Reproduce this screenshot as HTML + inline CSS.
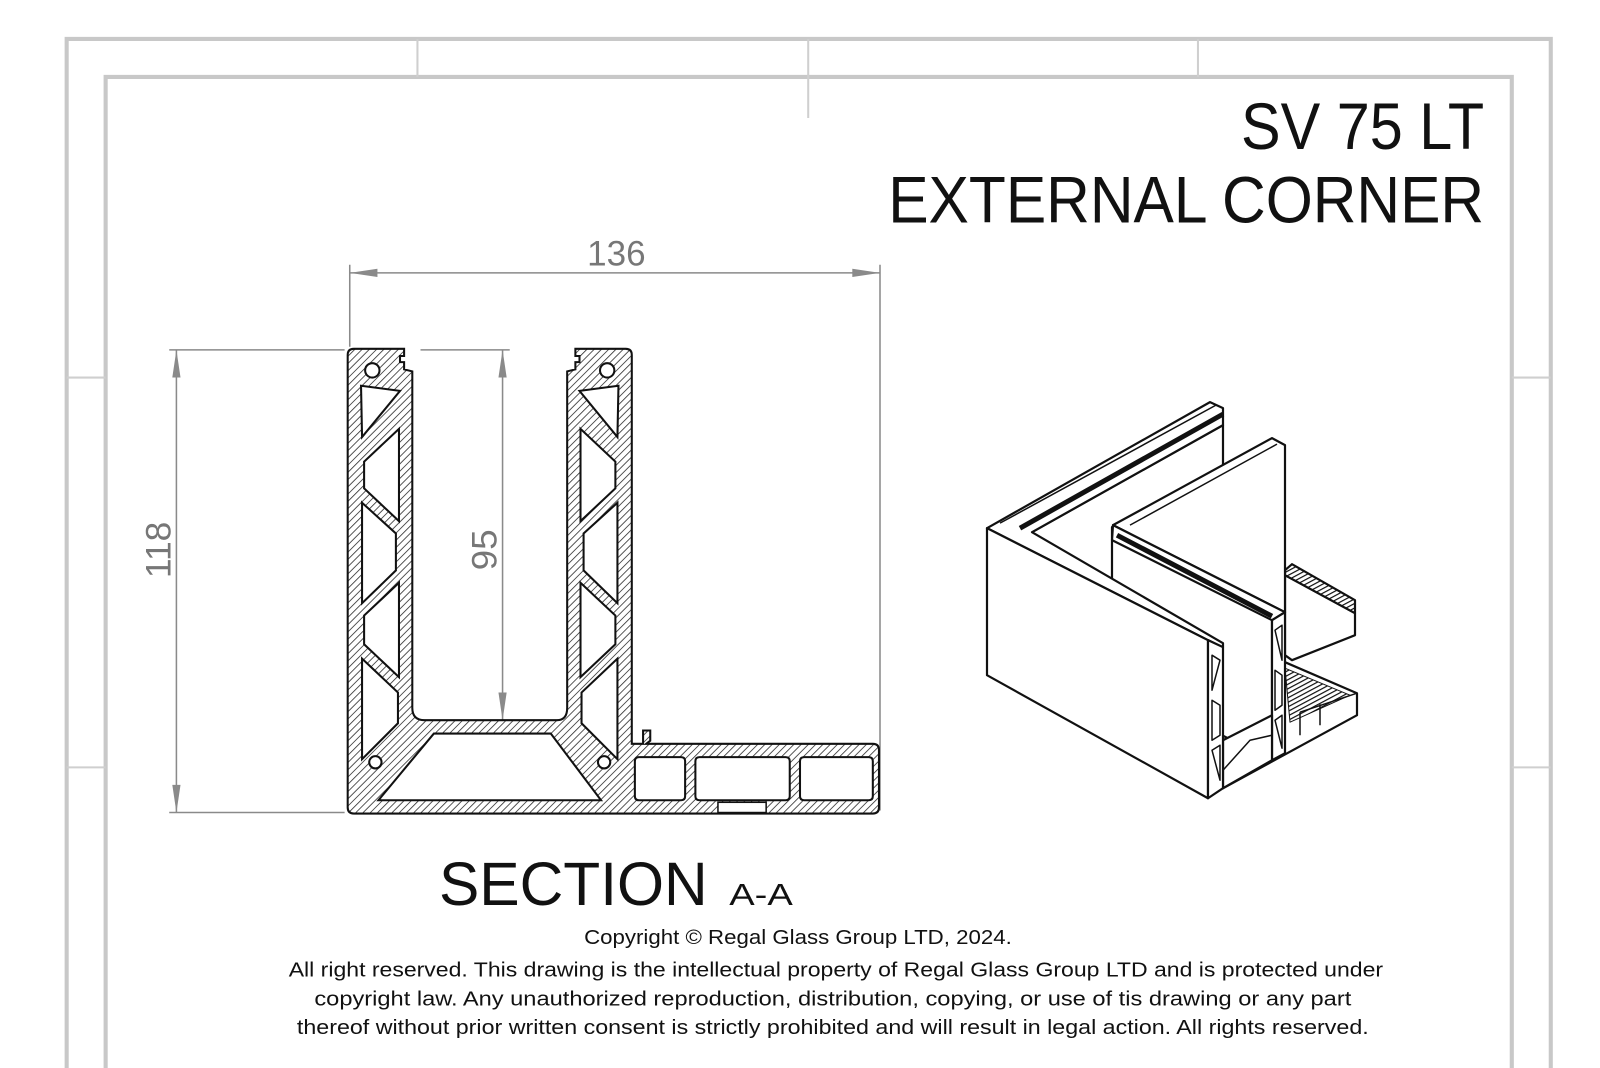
<!DOCTYPE html>
<html><head><meta charset="utf-8"><style>
html,body{margin:0;padding:0;background:#fff;}
svg{display:block;}
text{font-family:"Liberation Sans",sans-serif;}
</style></head><body>
<svg width="1600" height="1068" viewBox="0 0 1560 1041" preserveAspectRatio="none" xmlns="http://www.w3.org/2000/svg">
<defs>
<pattern id="h" patternUnits="userSpaceOnUse" width="5" height="5" patternTransform="rotate(45)">
<rect width="5" height="5" fill="#fff"/>
<line x1="0" y1="0" x2="0" y2="5" stroke="#333" stroke-width="1.6"/>
</pattern>
<pattern id="rib" patternUnits="userSpaceOnUse" width="4" height="4" patternTransform="rotate(-28)">
<rect width="4" height="4" fill="#fff"/>
<line x1="0" y1="0" x2="4" y2="0" stroke="#111" stroke-width="2.4"/>
</pattern>
</defs>
<rect width="1560" height="1041" fill="#fff"/>
<g fill="none" stroke="#c8c8c8" stroke-width="4">
<path d="M65,1041 L65,38 L1512,38 L1512,1041"/>
<path d="M103,1041 L103,75 L1474,75 L1474,1041"/>
</g>
<g stroke="#cfcfcf" stroke-width="2">
<line x1="407" y1="38" x2="407" y2="75"/>
<line x1="788" y1="38" x2="788" y2="115"/>
<line x1="1168" y1="38" x2="1168" y2="75"/>
<line x1="65" y1="368" x2="103" y2="368"/>
<line x1="65" y1="748" x2="103" y2="748"/>
<line x1="1474" y1="368" x2="1512" y2="368"/>
<line x1="1474" y1="748" x2="1512" y2="748"/>
</g>
<text x="1447" y="145" font-size="64" text-anchor="end" textLength="237" lengthAdjust="spacingAndGlyphs" fill="#111">SV 75 LT</text>
<text x="1447" y="217" font-size="64" text-anchor="end" textLength="581" lengthAdjust="spacingAndGlyphs" fill="#111">EXTERNAL CORNER</text>
<g stroke="#8a8a8a" stroke-width="1.5" fill="none">
<line x1="341" y1="258" x2="341" y2="338"/>
<line x1="858" y1="258" x2="858" y2="790"/>
<line x1="341" y1="266" x2="858" y2="266"/>
<line x1="165" y1="341" x2="336" y2="341"/>
<line x1="165" y1="792" x2="336" y2="792"/>
<line x1="172" y1="341" x2="172" y2="792"/>
<line x1="410" y1="341" x2="497" y2="341"/>
<line x1="490" y1="341" x2="490" y2="702"/>
</g>
<g fill="#8a8a8a">
<path d="M341,266 L368,262 L368,270Z"/>
<path d="M858,266 L831,262 L831,270Z"/>
<path d="M172,341 L168,368 L176,368Z"/>
<path d="M172,792 L168,765 L176,765Z"/>
<path d="M490,341 L486,368 L494,368Z"/>
<path d="M490,702 L486,675 L494,675Z"/>
</g>
<text x="601" y="259" font-size="34" text-anchor="middle" textLength="57" lengthAdjust="spacingAndGlyphs" fill="#777">136</text>
<text transform="translate(166,536) rotate(-90)" font-size="34" text-anchor="middle" textLength="55" lengthAdjust="spacingAndGlyphs" fill="#777">118</text>
<text transform="translate(484,536) rotate(-90)" font-size="34" text-anchor="middle" textLength="40" lengthAdjust="spacingAndGlyphs" fill="#777">95</text>
<path fill="url(#h)" fill-rule="evenodd" stroke="#111" stroke-width="2" d="
M339,346 Q339,340 345,340 L394,340 L394,347 L390,347 L390,353 L394,353 L394,360 L402,362 L402,690 Q402,702 414,702 L543,702 Q553,702 553,690 L553,362 L561,360 L561,353 L565,353 L565,347 L561,347 L561,340 L610,340 Q616,340 616,346 L616,725 L627,725 L627,712 L634,712 L634,722 L630,725 L851,725 Q857,725 857,731 L857,787 Q857,793 851,793 L345,793 Q339,793 339,787 Z
M352,376 L390,381 L353,426 Z
M389,418 L389,508 L355,476 L355,450 Z
M353,490 L386,520 L386,556 L353,588 Z
M389,568 L389,660 L355,628 L355,600 Z
M353,642 L388,675 L388,705 L353,740 Z
M603,376 L565,381 L602,426 Z
M566,418 L566,508 L600,476 L600,450 Z
M602,490 L569,520 L569,556 L602,588 Z
M566,568 L566,660 L600,628 L600,600 Z
M602,642 L567,675 L567,705 L602,740 Z
M423,715 L537,715 L586,780 L369,780 Z
M623,738 L664,738 Q668,738 668,742 L668,776 Q668,780 664,780 L623,780 Q619,780 619,776 L619,742 Q619,738 623,738 Z
M682,738 L766,738 Q770,738 770,742 L770,776 Q770,780 766,780 L682,780 Q678,780 678,776 L678,742 Q678,738 682,738 Z
M784,738 L847,738 Q851,738 851,742 L851,776 Q851,780 847,780 L784,780 Q780,780 780,776 L780,742 Q780,738 784,738 Z"/>
<g fill="#fff" stroke="#111" stroke-width="2">
<circle cx="363" cy="361" r="7"/>
<circle cx="592" cy="361" r="7"/>
<circle cx="366" cy="743" r="6"/>
<circle cx="589" cy="743" r="6"/>
</g>
<rect x="700" y="782" width="47" height="10" fill="#fff" stroke="#111" stroke-width="1.5"/>
<!-- iso view -->
<g transform="scale(0.975)" fill="#fff" stroke="#111" stroke-width="2.2" stroke-linejoin="round">
<path d="M1032,532 L1223,425 L1223,647 L1032,551 Z"/>
<path d="M1223,788 L1357,715 L1357,693 L1285,662 L1223,700 Z"/>
<path d="M1285,668 L1350,695 L1290,722 Z" fill="url(#rib)" stroke-width="1"/>
<path d="M1300,712 L1357,693 M1320,704 L1320,725 M1300,712 L1300,735" stroke-width="1.5"/>
<path d="M1285,575 L1355,613 L1355,635 L1292,660 L1285,655 Z"/>
<path d="M1285,570 L1292,564 L1355,600 L1355,613 L1285,575 Z" fill="url(#rib)"/>
<path d="M1113,525 L1272,438 L1285,445 L1285,612 Z"/>
<path d="M1130,525 L1277,444" stroke-width="1.5"/>
<path d="M1112,527 L1272,612 L1272,760 L1112,680 Z"/>
<path d="M1113,525 L1285,612 L1272,620 L1112,540 Z"/>
<path d="M1117,535 L1272,616" stroke-width="5"/>
<path d="M1272,620 L1285,612 L1285,753 L1272,760 Z"/>
<g stroke-width="1.5" fill="none">
<path d="M1275,630 L1282,625 L1282,660 Z M1275,670 L1282,675 L1282,705 L1275,710 Z M1275,720 L1282,715 L1282,748 Z"/>
</g>
<path d="M1223,740 L1272,715 L1272,760 L1223,788 Z"/>
<path d="M1223,770 L1250,740 L1272,735" stroke-width="1.5" fill="none"/>
<path d="M987,528 L1210,402 L1223,408 L1223,425 L1032,532 L1223,643 L1223,647 L1208,640 Z"/>
<path d="M1000,523 L1216,405" stroke-width="1.5"/>
<path d="M1020,528 L1223,414" stroke-width="5"/>
<path d="M987,528 L1208,640 L1208,798 L987,675 Z"/>
<path d="M1208,640 L1223,647 L1223,788 L1208,798 Z"/>
<g stroke-width="1.5" fill="none">
<path d="M1212,655 L1220,660 L1212,690 Z M1212,700 L1220,705 L1220,735 L1212,740 Z M1212,750 L1220,745 L1220,780 Z"/>
</g>
</g>
<text x="428" y="882" font-size="60" textLength="262" lengthAdjust="spacingAndGlyphs" fill="#111">SECTION</text>
<text x="711" y="882" font-size="30" textLength="62" lengthAdjust="spacingAndGlyphs" fill="#111">A-A</text>
<g font-size="20" fill="#111" text-anchor="middle">
<text x="778" y="920" textLength="417" lengthAdjust="spacingAndGlyphs">Copyright © Regal Glass Group LTD, 2024.</text>
<text x="815" y="952" textLength="1067" lengthAdjust="spacingAndGlyphs">All right reserved. This drawing is the intellectual property of Regal Glass Group LTD and is protected under</text>
<text x="812" y="980" textLength="1011" lengthAdjust="spacingAndGlyphs">copyright law. Any unauthorized reproduction, distribution, copying, or use of tis drawing or any part</text>
<text x="812" y="1008" textLength="1045" lengthAdjust="spacingAndGlyphs">thereof without prior written consent is strictly prohibited and will result in legal action. All rights reserved.</text>
</g>
</svg>
</body></html>
